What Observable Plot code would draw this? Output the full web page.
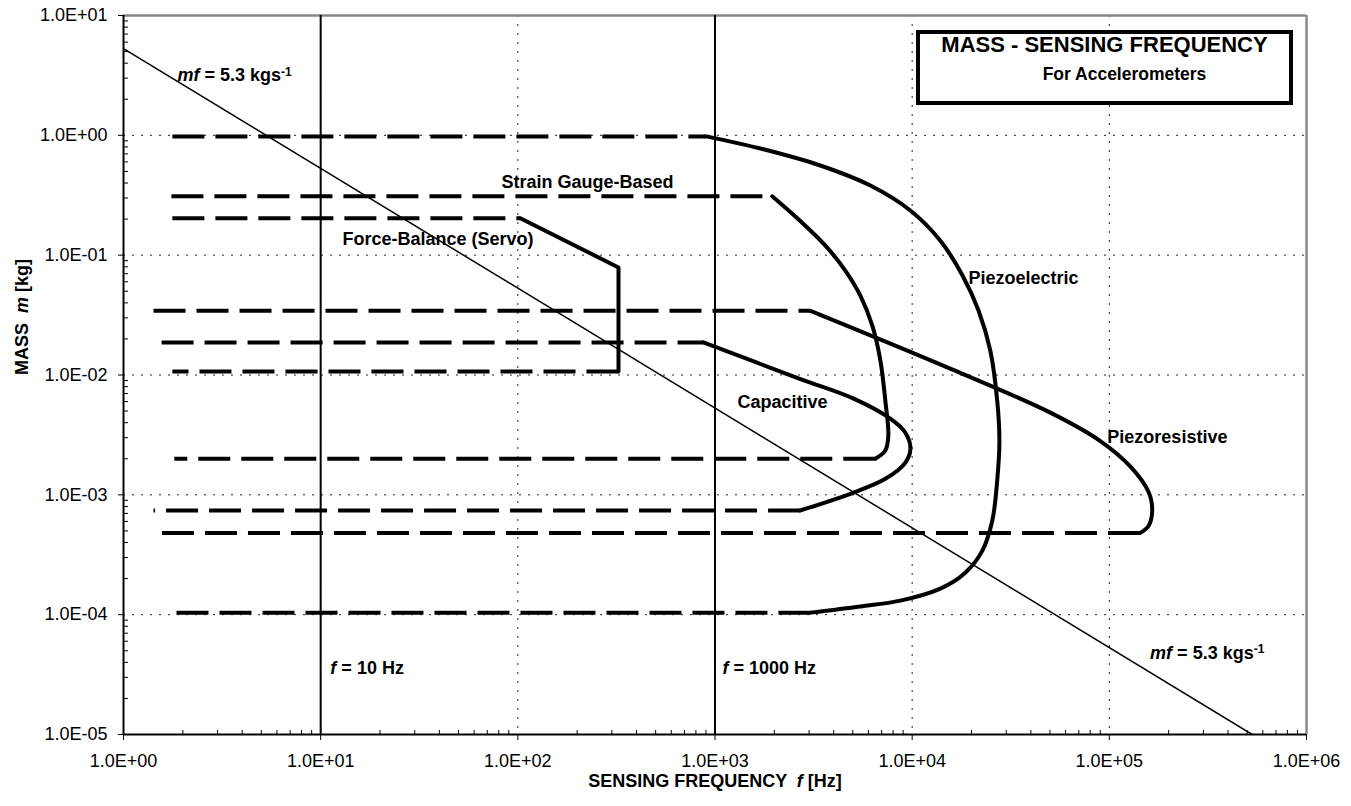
<!DOCTYPE html>
<html>
<head>
<meta charset="utf-8">
<script src="https://cdn.jsdelivr.net/npm/d3@7"></script>
<script src="https://cdn.jsdelivr.net/npm/@observablehq/plot@0.6"></script>
<style>
  body { margin: 0; background: #fff; font-family: "Liberation Sans", Arial, Helvetica, sans-serif; }
  #chart { position: relative; width: 1351px; height: 806px; }
  .title-box {
    position: absolute; left: 916px; top: 30px; width: 377px; height: 75px;
    box-sizing: border-box; border: 4px solid #000; background: #fff;
    font-weight: bold; color: #000; text-align: center;
  }
  .title-box .l1 { position: absolute; left: 0; right: 0; top: -2px; line-height: 26px; font-size: 22px; }
  .title-box .l2 { position: absolute; left: 40px; right: 0; top: 29px; line-height: 22px; font-size: 17.5px; }
</style>
</head>
<body>
<div id="chart">
  <div class="title-box"><div class="l1">MASS - SENSING FREQUENCY</div><div class="l2">For Accelerometers</div></div>
</div>
<script>
// Axis decades and their printed labels
const decadesX = [1, 10, 100, 1e3, 1e4, 1e5, 1e6];
const xTickLabels = ["1.0E+00", "1.0E+01", "1.0E+02", "1.0E+03", "1.0E+04", "1.0E+05", "1.0E+06"];
const decadesY = [1e-5, 1e-4, 1e-3, 1e-2, 1e-1, 1, 10];
const yTickLabels = ["1.0E-05", "1.0E-04", "1.0E-03", "1.0E-02", "1.0E-01", "1.0E+00", "1.0E+01"];

// Reference lines: constant sensing frequencies and constant m*f product
const referenceFreqs = [10, 1000];
const mfProduct = 5.3; // kg/s

// Accelerometer families: solid boundary curves [frequency Hz, mass kg]
const sensorNames = ["Force-Balance (Servo)", "Strain Gauge-Based", "Capacitive", "Piezoresistive", "Piezoelectric"];
const forceBalanceCurve = [[103, 0.203], [324, 0.079], [324, 0.0107]];
const strainGaugeCurve = [[1950, 0.31], [2690, 0.1945], [3630, 0.12], [4580, 0.0744], [5460, 0.046], [6280, 0.0258], [6900, 0.0132], [7310, 0.0061], [7570, 0.00312], [7310, 0.00234], [6500, 0.002]];
const capacitiveCurve = [[873, 0.0187], [2690, 0.0093], [5050, 0.00635], [7750, 0.00432], [9240, 0.0033], [9800, 0.00243], [9240, 0.00186], [7310, 0.00136], [4860, 0.00102], [2700, 0.00074]];
const piezoresistiveCurve = [[3050, 0.0343], [15600, 0.0113], [50200, 0.00485], [90000, 0.00281], [128000, 0.00172], [158000, 0.00106], [165000, 0.00074], [158000, 0.00055], [143000, 0.00048]];
const piezoelectricCurve = [[900, 0.98], [1700, 0.776], [3420, 0.56], [6140, 0.381], [9790, 0.236], [13900, 0.132], [18000, 0.0677], [21700, 0.0345], [24900, 0.016], [27000, 0.0061], [27700, 0.00283], [27000, 0.00132], [25500, 0.00061], [22700, 0.000342], [18600, 0.000224], [13900, 0.000165], [8710, 0.000131], [5460, 0.000117], [3050, 0.000104]];
const sensorCurves = [forceBalanceCurve, strainGaugeCurve, capacitiveCurve, piezoresistiveCurve, piezoelectricCurve];
const curveShapes = ["linear", "catmull-rom", "catmull-rom", "catmull-rom", "catmull-rom"];

// Low-frequency end of the dashed (extendable) ranges, upper and lower mass limit
const lowFreqTop = [1.77, 1.75, 1.56, 1.42, 1.77];
const lowFreqBottom = [1.77, 1.81, 1.42, 1.42, 1.77];

// Label placements [frequency, mass]
const sensorLabelFreq = [12.9, 82.6, 1300, 97700, 19300];
const sensorLabelMass = [0.135, 0.404, 0.0059, 0.003, 0.064];
const noteText = ["mf = 5.3 kgs-1", "mf = 5.3 kgs-1", "f = 10 Hz", "f = 1000 Hz"];
const noteFreq = [1.88, 161000, 11.2, 1090];
const noteMass = [3.16, 4.8e-5, 3.55e-5, 3.55e-5];

const minorSteps = [2, 3, 4, 5, 6, 7, 8, 9];
const minorX = decadesX.slice(0, -1).flatMap(d => minorSteps.map(k => d * k));
const minorY = decadesY.slice(0, -1).flatMap(d => minorSteps.map(k => d * k));

// Dashed extensions join each solid curve end back to the low-frequency edge
const dashed = sensorCurves.flatMap((c, i) => {
  const first = c[0], last = c[c.length - 1];
  return [
    {id: i + "t", f: lowFreqTop[i], m: first[1]}, {id: i + "t", f: first[0], m: first[1]},
    {id: i + "b", f: last[0], m: last[1]}, {id: i + "b", f: lowFreqBottom[i], m: last[1]}
  ];
});

const mfLine = [1, mfProduct / 1e-5].map(f => ({f, m: mfProduct / f}));

const font = '"Liberation Sans", Arial, Helvetica, sans-serif';

const chart = Plot.plot({
  width: 1351,
  height: 806,
  marginLeft: 123,
  marginRight: 45,
  marginTop: 15,
  marginBottom: 72,
  style: {fontFamily: font, fontSize: "18px", color: "#000", background: "#fff", overflow: "visible"},
  x: {type: "log", domain: [1, 1e6]},
  y: {type: "log", domain: [1e-5, 10]},
  marks: [
    Plot.gridX(decadesX.slice(1, -1), {stroke: "#222", strokeOpacity: 1, strokeWidth: 1, strokeDasharray: "2,7"}),
    Plot.gridY(decadesY.slice(1, -1), {stroke: "#222", strokeOpacity: 1, strokeWidth: 1, strokeDasharray: "2,7"}),
    Plot.ruleY([10], {stroke: "#888", strokeWidth: 2.5}),
    Plot.ruleX([1e6], {stroke: "#888", strokeWidth: 2.5}),
    Plot.ruleX(referenceFreqs, {stroke: "#000", strokeWidth: 2}),
    Plot.line(mfLine, {x: "f", y: "m", stroke: "#000", strokeWidth: 1.5, clip: true}),
    Plot.line(dashed, {x: "f", y: "m", z: "id", stroke: "#000", strokeWidth: 4, strokeDasharray: "32,11", strokeLinecap: "butt"}),
    ...sensorCurves.map((c, i) => Plot.line(c, {x: d => d[0], y: d => d[1], stroke: "#000", strokeWidth: 4, curve: curveShapes[i], strokeLinejoin: "round"})),
    Plot.ruleX([1], {stroke: "#000", strokeWidth: 2}),
    Plot.ruleY([1e-5], {stroke: "#000", strokeWidth: 2}),
    Plot.axisX(decadesX, {anchor: "bottom", tickSize: 6, tickPadding: 14, fontSize: 18, label: null,
      tickFormat: d => xTickLabels[decadesX.indexOf(d)]}),
    Plot.axisX(minorX, {anchor: "bottom", tickSize: 4, dy: -4, tickFormat: () => "", label: null}),
    Plot.axisY(decadesY, {anchor: "left", tickSize: 5, tickPadding: 11, fontSize: 18, label: null,
      tickFormat: d => yTickLabels[decadesY.indexOf(d)]}),
    Plot.axisY(minorY, {anchor: "left", tickSize: 5, dx: 5, tickFormat: () => "", label: null}),
    Plot.text(sensorNames, {x: (d, i) => sensorLabelFreq[i], y: (d, i) => sensorLabelMass[i], text: d => d,
      textAnchor: "start", fontWeight: "bold", fontSize: 18, fill: "#000"}),
    Plot.text(noteText, {x: (d, i) => noteFreq[i], y: (d, i) => noteMass[i], text: d => d,
      textAnchor: "start", fontWeight: "bold", fontSize: 18, fill: "#000"}),
    Plot.text(["SENSING FREQUENCY  f [Hz]"], {frameAnchor: "bottom", dy: 52, fontWeight: "bold", fontSize: 18, fill: "#000"}),
    Plot.text(["MASS  m [kg]"], {frameAnchor: "left", dx: -101, rotate: -90, fontWeight: "bold", fontSize: 18, fill: "#000"})
  ]
});

// Italic symbols and the superscript unit exponent
const rich = {
  "mf = 5.3 kgs-1": '<tspan font-style="italic">mf</tspan> = 5.3 kgs<tspan dy="-0.45em" font-size="12">-1</tspan>',
  "f = 10 Hz": '<tspan font-style="italic">f</tspan> = 10 Hz',
  "f = 1000 Hz": '<tspan font-style="italic">f</tspan> = 1000 Hz',
  "SENSING FREQUENCY  f [Hz]": 'SENSING FREQUENCY  <tspan font-style="italic">f</tspan> [Hz]',
  "MASS  m [kg]": 'MASS  <tspan font-style="italic">m</tspan> [kg]'
};
d3.select(chart).selectAll("text").each(function () {
  const t = this.textContent;
  if (rich[t]) { this.innerHTML = rich[t]; this.style.whiteSpace = "pre"; }
});

document.getElementById("chart").prepend(chart);
</script>
</body>
</html>
